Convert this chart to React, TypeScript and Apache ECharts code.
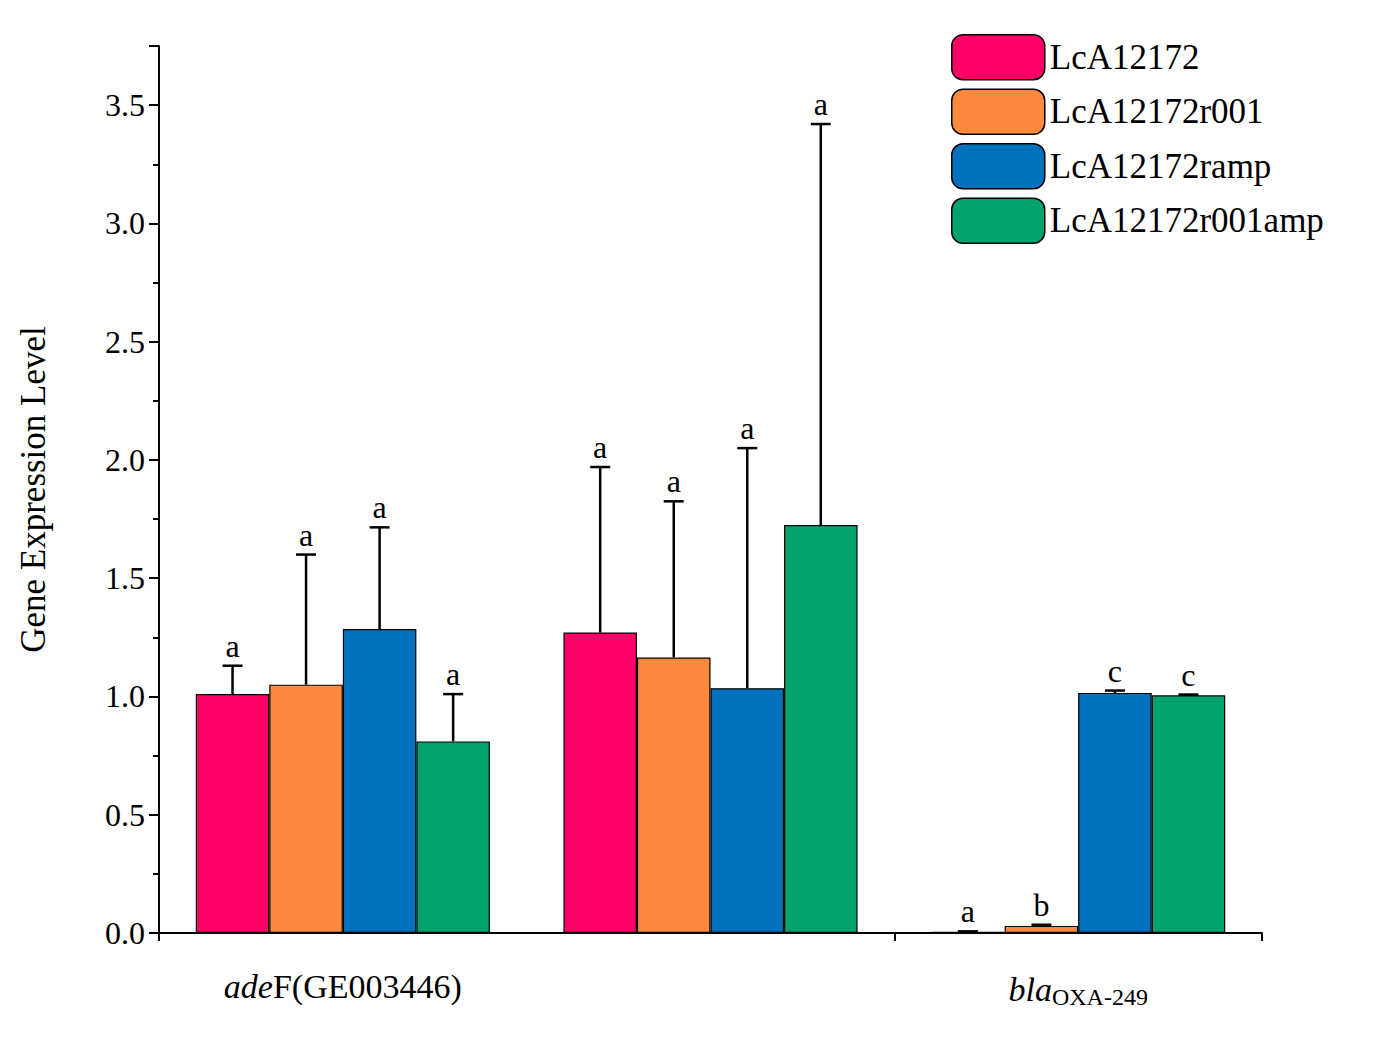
import { useEffect, useRef } from 'react';
import * as echarts from 'echarts';

const categories = ['{i|ade}F(GE003446)', '{i|ade}F(GE004732)', '{i|bla}{sub|OXA-249}'];
const seriesNames = ['LcA12172', 'LcA12172r001', 'LcA12172ramp', 'LcA12172r001amp'];
const colors = ['#FF0066', '#FF8A3D', '#0072BD', '#00A36A'];
const means = [
  [1.01, 1.27, 0.005],
  [1.05, 1.165, 0.03],
  [1.285, 1.035, 1.015],
  [0.81, 1.725, 1.005],
];
const errTops = [
  [1.13, 1.97, 0.007],
  [1.6, 1.825, 0.035],
  [1.715, 2.05, 1.025],
  [1.01, 3.42, 1.008],
];
const letters = [
  ['a', 'a', 'a'],
  ['a', 'a', 'b'],
  ['a', 'a', 'c'],
  ['a', 'a', 'c'],
];

const FONT = 'Liberation Serif';

const App = () => {
  const chartRef = useRef<HTMLDivElement>(null);

  useEffect(() => {
    if (!chartRef.current) return;
    const myChart = echarts.init(chartRef.current, null, { renderer: 'svg' });

    const bars = seriesNames.map((name, i) => ({
      name,
      type: 'bar',
      data: means[i],
      barGap: '0%',
      barCategoryGap: '20%',
      itemStyle: { color: colors[i], borderColor: '#000', borderWidth: 1.2 },
    }));

    const errs = seriesNames.map((_, i) => ({
      type: 'custom',
      z: 5,
      data: means[i].map((m, c) => [c, m, errTops[i][c], letters[i][c]]),
      renderItem: (params: any, api: any) => {
        const c = api.value(0);
        const base = api.coord([c, api.value(1)]);
        const top = api.coord([c, api.value(2)]);
        const band = api.size([1, 0])[0];
        const x = base[0] + (i - 1.5) * band * 0.2;
        const cap = 10;
        const ls = { stroke: '#000', lineWidth: 2.5 };
        return {
          type: 'group',
          children: [
            { type: 'line', shape: { x1: x, y1: base[1], x2: x, y2: top[1] }, style: ls },
            { type: 'line', shape: { x1: x - cap, y1: top[1], x2: x + cap, y2: top[1] }, style: ls },
            {
              type: 'text',
              x,
              y: top[1] - 4,
              style: {
                text: letters[i][c],
                fill: '#000',
                font: `32px "${FONT}"`,
                align: 'center',
                verticalAlign: 'bottom',
              },
            },
          ],
        };
      },
    }));

    const option = {
      animation: false,
      grid: { left: 150, right: 125, top: 38, bottom: 103 },
      legend: {
        data: seriesNames,
        orient: 'vertical',
        left: 938,
        top: 21,
        itemWidth: 93,
        itemHeight: 45,
        itemGap: 8,
        textStyle: { fontFamily: FONT, fontSize: 35, color: '#000' },
        itemStyle: { borderColor: '#000', borderWidth: 1.5 },
      },
      xAxis: {
        type: 'category',
        data: categories,
        axisLine: { lineStyle: { color: '#000', width: 2 } },
        axisTick: { show: true, length: 8, lineStyle: { width: 2 } },
        axisLabel: {
          margin: 36,
          fontFamily: FONT,
          fontSize: 34,
          color: '#000',
          rich: {
            i: { fontFamily: FONT, fontSize: 34, fontStyle: 'italic', color: '#000' },
            sub: { fontFamily: FONT, fontSize: 24, color: '#000', padding: [16, 0, 0, 0] },
          },
        },
      },
      yAxis: {
        type: 'value',
        min: 0,
        max: 3.75,
        interval: 0.5,
        name: 'Gene Expression Level',
        nameLocation: 'middle',
        nameGap: 108,
        nameTextStyle: { fontFamily: FONT, fontSize: 35, color: '#000' },
        axisLine: { show: true, lineStyle: { color: '#000', width: 2 } },
        axisTick: { show: true, inside: false, length: 10, lineStyle: { width: 2 } },
        minorTick: { show: true, splitNumber: 2, length: 6, lineStyle: { color: '#000', width: 2 } },
        splitLine: { show: false },
        axisLabel: {
          showMaxLabel: false,
          fontFamily: FONT,
          fontSize: 32,
          color: '#000',
          margin: 14,
          formatter: (v: number) => v.toFixed(1),
        },
      },
      series: [...bars, ...errs],
    };

    myChart.setOption(option);
    const handleResize = () => myChart.resize();
    window.addEventListener('resize', handleResize);
    return () => {
      window.removeEventListener('resize', handleResize);
      myChart.dispose();
    };
  }, []);

  return <div ref={chartRef} style={{ width: 1379, height: 1028, background: '#fff' }} />;
};

export default App;
